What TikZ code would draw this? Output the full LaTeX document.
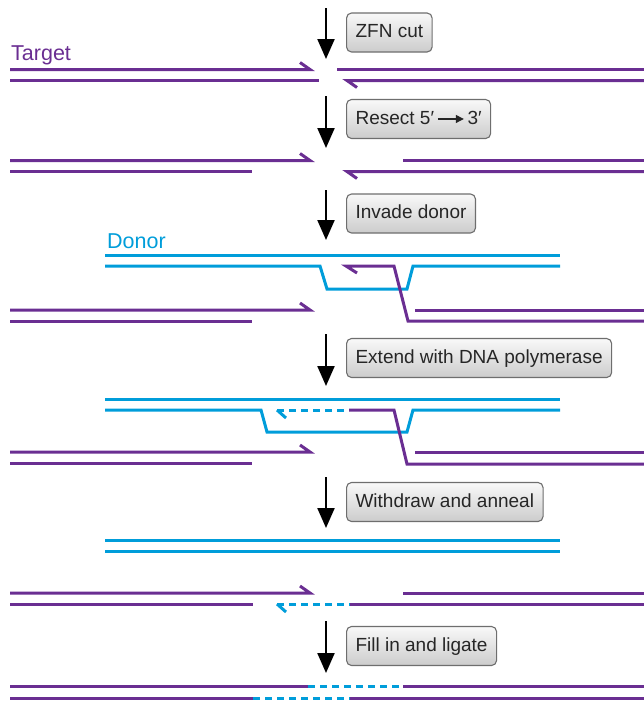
\documentclass[tikz,border=0pt]{standalone}
\usepackage{fontspec}
\setmainfont{Liberation Sans}
\usetikzlibrary{arrows.meta}
\definecolor{tgt}{RGB}{106,46,146}
\definecolor{dnr}{RGB}{0,157,218}
\definecolor{boxline}{RGB}{110,110,110}
\tikzset{
  strand/.style={line width=3pt, line cap=butt, line join=miter},
  tstrand/.style={strand, draw=tgt},
  dstrand/.style={strand, draw=dnr},
  dnew/.style={strand, draw=dnr, dash pattern=on 7pt off 5pt},
  stepbox/.style={draw=boxline, line width=1.1pt, rounded corners=5pt,
    top color=gray!5, bottom color=gray!40, anchor=west,
    minimum height=39pt, inner xsep=9pt, text height=14pt, text depth=4pt,
    font=\fontsize{19}{21}\selectfont, text=black!85},
  steparrow/.style={draw=black, line width=2.2pt, -{Triangle[length=20pt,width=17pt]}},
  lbl/.style={anchor=base west, inner sep=0pt, font=\fontsize{21.5}{23}\selectfont}
}
\begin{document}
\begin{tikzpicture}[x=1pt,y=-1pt]
\useasboundingbox (0,0) rectangle (644,705);

% ---- labels
\node[lbl, text=tgt] (target) at (11,60) {Target};
\node[lbl, text=dnr] (donor) at (107,248) {Donor};

% ---- step boxes
\node[stepbox] (b1) at (346,32.5) {ZFN cut};
\node[stepbox] (b2) at (346,119) {Resect 5′\,\tikz[baseline=-0.5ex]\draw[line width=1.1pt,-{Triangle[length=8pt,width=8pt]}] (0pt,0pt)--(26pt,0pt);\,3′};
\node[stepbox] (b3) at (346,213.5) {Invade donor};
\node[stepbox] (b4) at (346,358) {Extend with DNA polymerase};
\node[stepbox] (b5) at (346,502) {Withdraw and anneal};
\node[stepbox] (b6) at (346,646) {Fill in and ligate};

% ---- step arrows
\coordinate (a1s) at (326,8);   \coordinate (a1e) at (326,59);
\coordinate (a2s) at (326,96);  \coordinate (a2e) at (326,148);
\coordinate (a3s) at (326,190); \coordinate (a3e) at (326,240);
\coordinate (a4s) at (326,334); \coordinate (a4e) at (326,386);
\coordinate (a5s) at (326,477); \coordinate (a5e) at (326,528);
\coordinate (a6s) at (326,621); \coordinate (a6e) at (326,673);
\foreach \i in {1,...,6} \draw[steparrow] (a\i s) -- (a\i e);

% ---- row 1: ZFN cut
\draw[tstrand] (10,69.5) -- (310,69.5) -- (300,62.5);
\draw[tstrand] (10,80.5) -- (319,80.5);
\draw[tstrand] (337,69.5) -- (644,69.5);
\draw[tstrand] (357,87.5) -- (347,80.5) -- (644,80.5);

% ---- row 2: resect
\draw[tstrand] (10,160.5) -- (310,160.5) -- (300,153.5);
\draw[tstrand] (10,171.5) -- (252,171.5);
\draw[tstrand] (403,160.5) -- (644,160.5);
\draw[tstrand] (357,178.5) -- (347,171.5) -- (644,171.5);

% ---- row 3: invade donor
\draw[dstrand] (105,255) -- (560,255);
\draw[dstrand] (105,266) -- (320,266) -- (327,289) -- (407,289) -- (413,266) -- (560,266);
\draw[tstrand] (357,273) -- (346,266) -- (394,266) -- (408,321) -- (644,321);
\draw[tstrand] (415,310) -- (644,310);
\draw[tstrand] (10,310) -- (310,310) -- (300,303);
\draw[tstrand] (10,321) -- (252,321);

% ---- row 4: extend
\draw[dstrand] (105,399) -- (560,399);
\draw[dstrand] (105,410) -- (261,410) -- (267,432) -- (407,432) -- (413,410) -- (560,410);
\draw[dstrand] (286,418) -- (277,410);
\draw[dnew] (277,410) -- (349,410);
\draw[tstrand] (349,410) -- (394,410) -- (407,464) -- (644,464);
\draw[tstrand] (415,452.5) -- (644,452.5);
\draw[tstrand] (10,452) -- (310,452) -- (300,445);
\draw[tstrand] (10,463) -- (252,463);

% ---- row 5: withdraw and anneal
\draw[dstrand] (105,540) -- (560,540);
\draw[dstrand] (105,551) -- (560,551);
\draw[tstrand] (10,593) -- (310,593) -- (300,586);
\draw[tstrand] (10,604) -- (253,604);
\draw[tstrand] (403,593) -- (644,593);
\draw[dstrand] (286,612) -- (277,604);
\draw[dnew] (277,604) -- (350,604);
\draw[tstrand] (350,604) -- (644,604);

% ---- row 6: fill in and ligate
\draw[tstrand] (10,686) -- (308,686);
\draw[dnew] (308,686) -- (403,686);
\draw[tstrand] (403,686) -- (644,686);
\draw[tstrand] (10,698) -- (253,698);
\draw[dnew] (253,698) -- (350,698);
\draw[tstrand] (350,698) -- (644,698);
\end{tikzpicture}
\end{document}
